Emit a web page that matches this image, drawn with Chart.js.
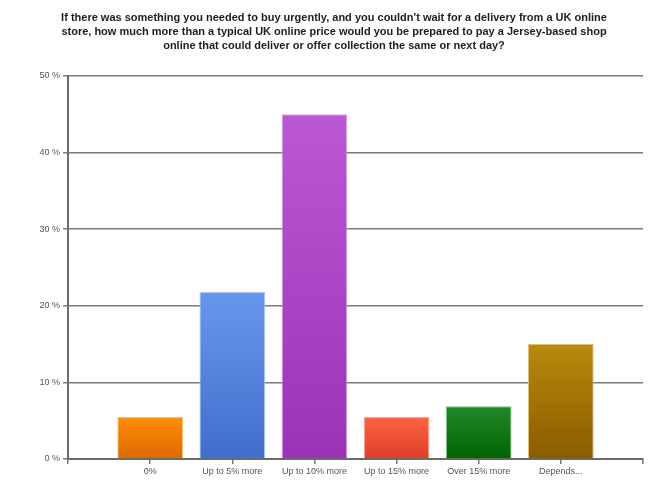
<!DOCTYPE html>
<html>
<head>
<meta charset="utf-8">
<script src="https://cdn.jsdelivr.net/npm/chart.js@4.4.1/dist/chart.umd.min.js"></script>
<style>
  html, body { margin: 0; padding: 0; background: #fff; }
  #wrap { width: 668px; height: 502px; }
</style>
</head>
<body>
<div id="wrap"><canvas id="my-chart" width="668" height="502"></canvas></div>
<script>
'use strict';

// ******GLOBALS******
let titleLines = [
  'If there was something you needed to buy urgently, and you couldn\'t wait for a delivery from a UK online',
  'store, how much more than a typical UK online price would you be prepared to pay a Jersey-based shop',
  'online that could deliver or offer collection the same or next day?'
];

// blank slots at both ends keep the gap seen left and right of the bars
let categories = ['', '0%', 'Up to 5% more', 'Up to 10% more', 'Up to 15% more', 'Over 15% more', 'Depends...', ''];

let percentValues = [null, 5.5, 21.8, 45.0, 5.5, 6.9, 15.0, null];

let yTicks = [0, 10, 20, 30, 40, 50];

// top and bottom colour of each bar gradient
let topColours = ['', '#ff8c0a', '#6797ec', '#bb58d4', '#ff6446', '#23892a', '#b98a0c', ''];
let bottomColours = ['', '#dc6a00', '#3f6fcc', '#9a33b6', '#dc3f26', '#006400', '#8a5c00', ''];
let edgeColours = ['', '#ffc078', '#a9c4f4', '#dca6ea', '#ffa897', '#7cc07c', '#dcc07a', ''];

let canvasElem = document.getElementById('my-chart').getContext('2d');

// ****** HELPER FUNCTIONS ******
function barGradient(context) {
  let i = context.dataIndex;
  let chart = context.chart;
  let value = percentValues[i];
  if (!chart.chartArea || value === null || value === undefined) {
    return topColours[i] || '#000';
  }
  let yScale = chart.scales.y;
  let top = yScale.getPixelForValue(value);
  let bottom = yScale.getPixelForValue(0);
  let grad = chart.ctx.createLinearGradient(0, top, 0, bottom);
  grad.addColorStop(0, topColours[i]);
  grad.addColorStop(1, bottomColours[i]);
  return grad;
}

let myChartObj = {
  type: 'bar',
  data: {
    labels: categories,
    datasets: [{
      data: percentValues,
      backgroundColor: barGradient,
      borderColor: edgeColours,
      borderWidth: 1,
      borderSkipped: 'bottom',
      categoryPercentage: 1,
      barPercentage: 0.8
    }]
  },
  options: {
    responsive: false,
    animation: false,
    events: [],
    layout: { padding: 0 },
    plugins: {
      legend: { display: false },
      tooltip: { enabled: false },
      title: {
        display: true,
        text: titleLines,
        color: '#1e1e1e',
        font: { family: 'Liberation Sans', size: 11, weight: 'bold', lineHeight: 1.27 },
        padding: { top: 11, bottom: 23 }
      }
    },
    scales: {
      x: {
        offset: false,
        grid: {
          offset: false,
          drawOnChartArea: false,
          drawTicks: true,
          tickLength: 5,
          color: '#777',
          lineWidth: 1.5
        },
        border: { display: true, color: '#6a6a6a', width: 2 },
        ticks: {
          autoSkip: false,
          maxRotation: 0,
          color: '#555',
          padding: 2,
          font: { family: 'Liberation Sans', size: 9 }
        },
        afterFit: function (scale) { scale.height = 43; }
      },
      y: {
        min: 0,
        max: 50,
        afterBuildTicks: function (scale) {
          scale.ticks = yTicks.map(function (v) { return { value: v }; });
        },
        grid: {
          color: '#7a7a7a',
          lineWidth: 1.5,
          tickLength: 5
        },
        border: { display: true, color: '#6a6a6a', width: 2 },
        ticks: {
          color: '#555',
          padding: 3,
          font: { family: 'Liberation Sans', size: 9 },
          callback: function (v) { return v + ' %'; }
        },
        afterFit: function (scale) { scale.width = 68; }
      },
      // empty right axis, only reserves the white margin right of the plot
      yRight: {
        position: 'right',
        min: 0,
        max: 50,
        grid: { display: false },
        border: { display: false },
        ticks: { display: false },
        afterFit: function (scale) { scale.width = 25; }
      }
    }
  }
};

new Chart(canvasElem, myChartObj);
</script>
</body>
</html>
